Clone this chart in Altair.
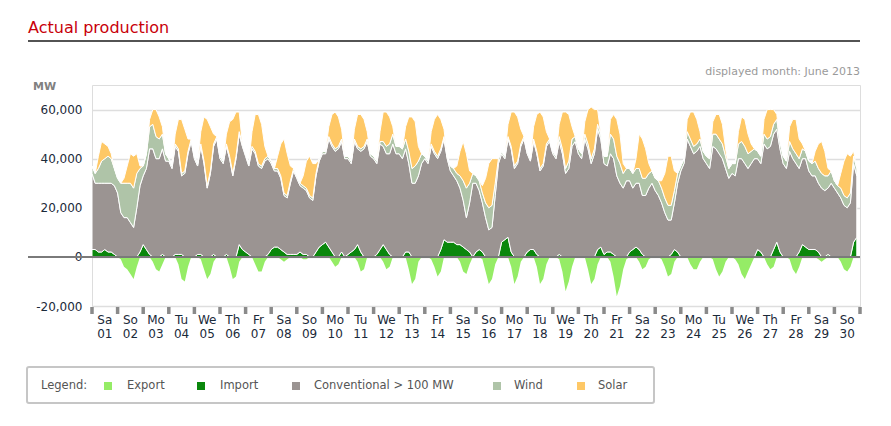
import altair as alt
import pandas as pd
import numpy as np

# ---- data: 30 days x 8 samples (every 3 hours), values in 1000 MW ----
# gray top (conventional incl. import)
gray_top = [
    34,30,30,30,30,30,30,29,  26,18,16,16,14,12,20,29,  33,36,44,44,40,40,44,39,
    39,36,45,43,33,34,42,47,  40,37,45,38,28,34,45,48,  40,38,45,40,33,40,50,45,
    41,37,44,42,37,36,39,40,  38,35,35,32,25,24,30,35,  32,29,28,27,24,23,33,39,
    42,42,48,45,43,44,47,40,  40,38,47,44,43,44,47,41,  40,38,46,45,42,42,46,42,
    42,40,44,38,30,30,33,38,  40,38,45,42,40,43,48,40,  35,33,31,28,23,16,22,30,
    30,27,22,16,11,12,25,38,  42,40,48,44,36,38,45,48,  42,39,47,42,35,37,45,47,
    42,40,47,42,34,36,45,47,  42,40,48,44,38,42,52,48,  38,37,42,40,33,30,28,31,
    31,28,30,30,25,25,28,30,  27,25,22,18,15,15,22,30,  35,38,48,45,42,43,45,40,
    38,36,45,44,42,40,36,32,  34,33,40,40,38,36,38,40,  40,38,46,44,45,50,52,44,
    38,36,43,40,38,36,40,40,  35,33,33,30,28,27,28,30,  28,26,24,21,20,22,38,33,
]
wind = [
    3,4,6,9,10,11,10,7,  6,12,14,14,16,16,14,7,  4,6,9,10,9,8,6,3,
    1,1,1,1,1,1,1,1,  1,1,1,1,1,1,1,1,  1,1,1,1,1,1,1,1,
    1,1,1,1,1,1,1,1,  1,1,1,1,1,1,1,1,  1,1,1,1,1,1,1,1,
    1,1,1,1,1,1,1,1,  1,1,1,1,1,1,1,1,  1,1,1,2,3,4,4,3,
    3,4,4,5,6,7,6,4,  1,1,1,1,1,1,1,1,  2,3,3,5,8,12,8,4,
    3,4,4,6,9,9,5,2,  1,1,1,1,1,1,1,1,  1,1,1,1,1,1,1,1,
    1,1,2,2,2,3,3,2,  2,2,2,2,2,2,2,2,  3,4,8,8,8,8,6,5,
    5,6,6,6,7,7,6,5,  5,6,6,6,6,6,5,4,  2,2,3,3,3,3,3,3,
    3,4,5,6,6,6,5,4,  4,5,6,7,7,6,5,4,  3,3,4,4,4,4,4,3,
    3,3,4,4,4,4,4,3,  4,5,6,6,6,6,5,5,  3,3,4,4,4,4,3,3,
]
solar = [
    0,0,5,8,6,4,2,0,  0,0,2,7,12,13,8,1,  0,0,3,6,11,9,3,0,
    0,0,4,12,22,17,5,0,  0,0,5,18,27,18,4,0,  0,0,4,14,22,18,8,0,
    0,0,6,15,20,17,5,0,  0,0,5,13,22,17,6,0,  0,0,4,11,16,14,4,0,
    0,0,4,12,15,12,4,0,  0,0,4,13,14,11,3,0,  0,0,4,12,14,11,3,0,
    0,0,5,14,21,18,6,0,  0,0,5,13,17,12,3,0,  0,0,3,10,16,14,5,0,
    0,0,3,10,18,19,10,0,  0,0,5,14,22,18,6,0,  0,0,5,15,23,19,5,0,
    0,0,5,15,23,19,5,0,  0,0,5,14,21,16,6,0,  0,0,6,10,15,12,4,0,
    0,0,4,14,16,12,4,0,  0,0,3,10,20,20,8,0,  0,0,5,11,14,10,3,0,
    0,0,5,8,10,8,3,0,  0,0,5,10,11,8,3,0,  0,0,6,12,11,6,2,0,
    0,0,6,12,14,8,2,0,  0,0,4,10,13,10,3,0,  0,0,6,14,18,15,2,0,
]
imports = [
    3,3,2,2,3,2,2,1,  0,0,0,0,0,0,0,2,  5,3,1,0,0,0,1,0,
    0,0,1,1,1,0,0,0,  0,1,1,0,0,0,1,0,  0,0,1,0,0,0,5,3,
    2,1,0,0,0,0,0,1,  3,4,4,3,2,1,1,1,  1,2,1,1,0,0,2,4,
    5,6,4,2,0,0,2,0,  1,2,3,5,2,0,0,0,  0,1,3,5,3,1,0,0,
    0,0,2,2,0,0,0,0,  0,0,0,0,0,3,7,6,  6,6,5,5,4,3,2,0,
    2,3,2,0,0,0,0,0,  6,7,8,2,0,0,0,0,  2,3,3,1,0,0,0,0,
    0,0,1,0,0,0,0,0,  0,0,0,0,0,0,3,4,  1,2,2,1,0,0,0,0,
    2,3,4,3,1,0,0,0,  0,0,0,0,0,1,3,2,  0,0,0,0,0,0,0,0,
    0,0,0,0,0,0,0,0,  0,0,0,0,0,0,0,0,  3,2,0,0,0,3,6,2,
    0,0,0,0,0,2,5,4,  3,3,3,2,0,0,1,0,  0,0,0,0,0,0,6,8,
]
exports = [
    0,0,0,0,0,0,0,0,  0,-1,-4,-5,-7,-9,-4,0,  0,0,0,-2,-5,-6,-3,0,
    0,0,0,-3,-9,-10,-4,0,  0,0,-1,-5,-9,-7,-2,0,  0,0,0,-4,-9,-8,-2,0,
    0,0,0,-3,-6,-6,-2,0,  0,0,0,-1,-2,-1,0,0,  0,0,-1,-1,0,0,0,0,
    0,0,0,-2,-4,-3,0,0,  0,0,0,-2,-6,-5,0,0,  0,0,0,-2,-5,-4,0,0,
    0,0,0,-5,-11,-9,-2,0,  0,0,-1,-4,-8,-6,0,0,  0,0,0,-2,-6,-7,-3,0,
    0,0,-1,-6,-11,-9,-3,0,  0,0,0,-4,-11,-8,-2,0,  0,0,0,-4,-11,-9,-3,0,
    0,0,-1,-6,-14,-10,-4,0,  0,0,0,-5,-11,-9,-3,0,  0,0,-2,-8,-16,-12,-5,-1,
    0,0,0,-2,-5,-4,-1,0,  0,0,-1,-4,-8,-7,-2,0,  0,0,0,-3,-5,-5,-2,0,
    0,0,-1,-5,-8,-6,-2,0,  0,-1,-3,-7,-9,-6,-3,0,  0,0,0,-3,-5,-4,0,0,
    0,0,-1,-5,-7,-4,0,0,  0,0,0,-1,-2,-1,0,0,  0,0,-2,-5,-6,-4,0,0,
]
day_names = ["Sa", "So", "Mo", "Tu", "We", "Th", "Fr"]
day_numbers = [f"{d:02d}" for d in range(1, 31)]
series_names = ["Export", "Import", "Conventional > 100 MW", "Wind", "Solar"]
series_colors = ["#95ec66", "#0a870c", "#9b9492", "#afc4a8", "#fec866"]

hours = np.arange(len(gray_top)) * 3
conventional = np.array(gray_top) - np.array(imports)

rows = []
for i, h in enumerate(hours):
    rows.append({"hour": h, "series": "Import", "ord": 0, "value": imports[i]})
    rows.append({"hour": h, "series": "Conventional > 100 MW", "ord": 1, "value": float(conventional[i])})
    rows.append({"hour": h, "series": "Wind", "ord": 2, "value": wind[i]})
    rows.append({"hour": h, "series": "Solar", "ord": 3, "value": solar[i]})
df = pd.DataFrame(rows)
df_exp = pd.DataFrame({"hour": hours, "value": exports, "zero": 0})

W, H = 768, 221
FONT = "DejaVu Sans"
xscale = alt.Scale(domain=[0, 720], nice=False, zero=False)
yscale = alt.Scale(domain=[-20, 70], nice=False)

label_expr = ("datum.value == 70 ? '' : (datum.value < 0 ? '-' + format(-datum.value*1000, ',') "
              ": format(datum.value*1000, ','))")

areas = alt.Chart(df).mark_area(stroke="white", strokeWidth=1, interpolate="linear").encode(
    x=alt.X("hour:Q", scale=xscale, axis=None),
    y=alt.Y("value:Q", stack="zero", scale=yscale,
            axis=alt.Axis(values=list(range(-20, 71, 10)), grid=True, gridColor="#dedede",
                          gridWidth=1.5, domain=False, ticks=False, labelExpr=label_expr,
                          labelFont=FONT, labelFontSize=12, labelColor="#1b2a3a",
                          labelPadding=10, labelOverlap=False, title=None)),
    color=alt.Color("series:N", scale=alt.Scale(domain=series_names, range=series_colors), legend=None),
    order=alt.Order("ord:Q"),
)

export_area = alt.Chart(df_exp).mark_area(color=series_colors[0], interpolate="linear").encode(
    x=alt.X("hour:Q", scale=xscale),
    y=alt.Y("value:Q", scale=yscale),
    y2=alt.Y2("zero:Q"),
)

zero_rule = alt.Chart(pd.DataFrame({"v": [0]})).mark_rule(color="#7a7a7a", strokeWidth=2).encode(
    y=alt.Y("v:Q", scale=yscale), x=alt.value(-64), x2=alt.value(W))

tick_df = pd.DataFrame({"h": list(range(0, 721, 24))})
day_ticks = alt.Chart(tick_df).mark_rule(color="#8a8a8a", strokeWidth=3.5).encode(
    x=alt.X("h:Q", scale=xscale), y=alt.value(222), y2=alt.value(229))

day_df = pd.DataFrame({
    "h": [24 * i + 12 for i in range(30)],
    "name": [day_names[i % 7] for i in range(30)],
    "num": day_numbers,
})
day_lbl1 = alt.Chart(day_df).mark_text(font=FONT, fontSize=12, color="#1b2a3a", baseline="middle").encode(
    x=alt.X("h:Q", scale=xscale), y=alt.value(235), text="name:N")
day_lbl2 = alt.Chart(day_df).mark_text(font=FONT, fontSize=12, color="#1b2a3a", baseline="middle").encode(
    x=alt.X("h:Q", scale=xscale), y=alt.value(249), text="num:N")


def txt(s, x, y, **kw):
    return alt.Chart(pd.DataFrame({"t": [s]})).mark_text(font=FONT, **kw).encode(
        x=alt.value(x), y=alt.value(y), text="t:N")


def box(x, x2, y, y2, **kw):
    return alt.Chart(pd.DataFrame({"a": [0]})).mark_rect(**kw).encode(
        x=alt.value(x), x2=alt.value(x2), y=alt.value(y), y2=alt.value(y2))


title = txt("Actual production", -64, -52, fontSize=16, color="#c8000a", align="left", baseline="alphabetic")
underline = alt.Chart(pd.DataFrame({"a": [0]})).mark_rule(color="#1a1a1a", strokeWidth=1.5).encode(
    x=alt.value(-64), x2=alt.value(W), y=alt.value(-44))
month = txt("displayed month: June 2013", W, -13, fontSize=11, color="#9a9a9a", align="right", baseline="middle")
mw = txt("MW", -59, 2, fontSize=11, color="#808080", align="left", baseline="middle", fontWeight="bold")

legend_layers = [box(-65, 562, 282, 318, fill="white", stroke="#c6c6c6", strokeWidth=2, cornerRadius=2),
                 txt("Legend:", -51, 301, fontSize=11.5, color="#555555", align="left", baseline="middle")]
sw_x = [12, 105, 200, 401, 485]
tx_x = [35, 128, 222, 422, 506]
for name, col, sx, tx in zip(series_names, series_colors, sw_x, tx_x):
    legend_layers.append(box(sx, sx + 8, 297, 305, fill=col))
    legend_layers.append(txt(name, tx, 301, fontSize=11.5, color="#555555", align="left", baseline="middle"))

chart = alt.layer(
    areas, export_area, zero_rule, day_ticks, day_lbl1, day_lbl2, title, underline, month, mw, *legend_layers
).properties(
    width=W, height=H,
    autosize=alt.AutoSizeParams(type="none"),
    padding={"left": 84, "top": 77, "right": 23, "bottom": 112},
).configure_view(stroke=None).configure(font=FONT)

chart.save("out.html", embed_options={"renderer": "svg", "actions": False})
